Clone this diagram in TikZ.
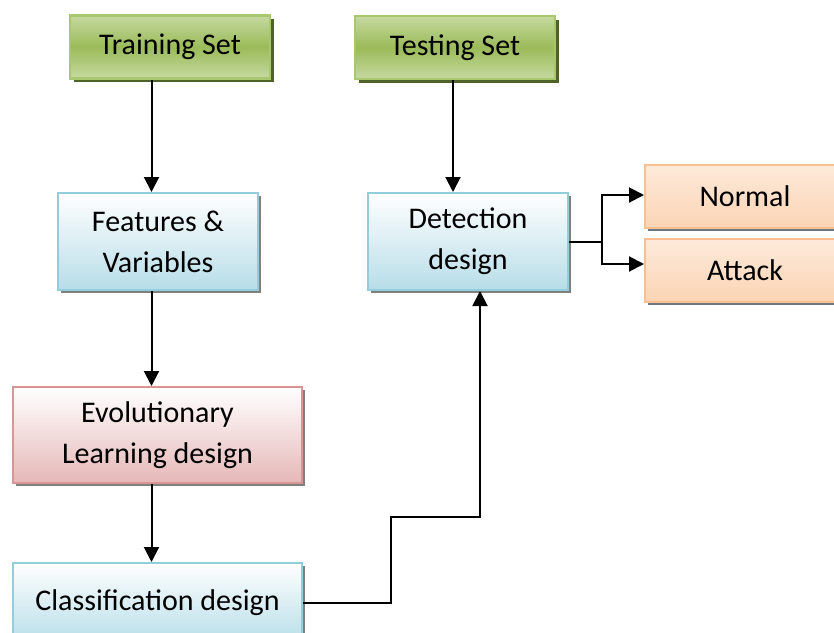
\documentclass[tikz,border=0pt]{standalone}
\usepackage{fontspec}
\setmainfont{Carlito}
\usetikzlibrary{arrows.meta,shadows}
\definecolor{grnfill}{HTML}{9BBB59}
\definecolor{grnlight}{HTML}{C6D9A0}
\definecolor{grnedge}{HTML}{A9C76F}
\definecolor{grnshade}{HTML}{4F6228}
\definecolor{blufill}{HTML}{B7DDE8}
\definecolor{bluedge}{HTML}{92CDDC}
\definecolor{pnkfill}{HTML}{E5B8B7}
\definecolor{pnkedge}{HTML}{D99594}
\definecolor{orgfill}{HTML}{FBD4B4}
\definecolor{orgtop}{HTML}{FDEADA}
\definecolor{orgedge}{HTML}{FABF8F}

\begin{document}
\begin{tikzpicture}[
  x=1pt, y=-1pt,
  box/.style={align=center, inner sep=0pt, font=\fontsize{30}{41}\selectfont, minimum width=200pt},
  grnbox/.style={box, draw=grnedge, line width=2.5pt, top color=grnlight, bottom color=grnlight, middle color=grnfill, minimum height=63pt,
    drop shadow={shadow xshift=3.5pt, shadow yshift=-3.5pt, fill=grnshade, opacity=1}},
  blubox/.style={box, draw=bluedge, line width=2pt, top color=white, bottom color=blufill,
    drop shadow={shadow xshift=3pt, shadow yshift=-3pt, fill=black!50, opacity=1}},
  pnkbox/.style={box, draw=pnkedge, line width=2pt, top color=white, bottom color=pnkfill,
    drop shadow={shadow xshift=3pt, shadow yshift=-3pt, fill=black!50, opacity=1}},
  orgbox/.style={box, draw=orgedge, line width=2pt, top color=orgtop, bottom color=orgfill, minimum height=63pt,
    drop shadow={shadow xshift=3pt, shadow yshift=-3pt, fill=black!50!cyan!60!black, opacity=0.8}},
  arr/.style={-{Triangle[length=15pt,width=15pt]}, line width=2pt, draw=black}
]
\useasboundingbox (0,0) rectangle (834,632);

\node[grnbox] (train) at (170,47) {Training Set};
\node[grnbox] (test) at (455,47.5) {Testing Set};
\node[blubox, minimum height=97pt] (feat) at (158,241.5) {Features \&\\Variables};
\node[blubox, minimum height=97pt] (detect) at (468,241.5) {Detection\\design};
\node[orgbox] (normal) at (745,196.5) {Normal};
\node[orgbox] (attack) at (745,270) {Attack};
\node[pnkbox, minimum width=289pt, minimum height=96pt] (evol) at (157.5,435) {Evolutionary\\Learning design};
\node[blubox, minimum width=289pt, minimum height=80pt] (classif) at (157.5,603) {Classification design};

\coordinate (lcol) at (151.5,0);
\coordinate (rcol) at (453,0);

\draw[arr] (train.south -| lcol) -- (feat.north -| lcol);
\draw[arr] (test.south -| rcol) -- (detect.north -| rcol);
\draw[arr] (feat.south -| lcol) -- (evol.north -| lcol);
\draw[arr] (evol.south -| lcol) -- (classif.north -| lcol);
\draw[arr] (classif.east) -- ++(88,0) -- ++(0,-86) -| ([xshift=12pt]detect.south);
\draw[arr] (detect.east) -- ++(33,0) |- ([yshift=1.5pt]normal.west);
\draw[arr] (detect.east) -- ++(33,0) |- ([yshift=6pt]attack.west);
\end{tikzpicture}
\end{document}
